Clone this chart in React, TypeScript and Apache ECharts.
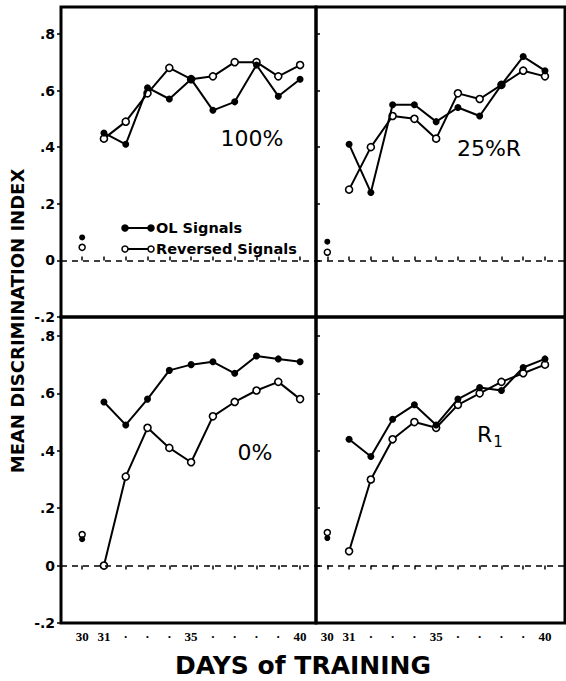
import React, { useEffect, useRef } from "react";
import * as echarts from "echarts";

// ---- data ----
const days = [31, 32, 33, 34, 35, 36, 37, 38, 39, 40];
const pretestDay = 30;
const dayTicks = [30, 31, 32, 33, 34, 35, 36, 37, 38, 39, 40];
const labeledDays = [30, 31, 35, 40];
const yTicks = [-0.2, 0, 0.2, 0.4, 0.6, 0.8];

const panelLabels = ["100%", "25%R", "0%", "R1"];

const olSignals100 = [0.45, 0.41, 0.61, 0.57, 0.64, 0.53, 0.56, 0.69, 0.58, 0.64];
const reversedSignals100 = [0.43, 0.49, 0.59, 0.68, 0.64, 0.65, 0.7, 0.7, 0.65, 0.69];

const olSignals25R = [0.41, 0.24, 0.55, 0.55, 0.49, 0.54, 0.51, 0.62, 0.72, 0.67];
const reversedSignals25R = [0.25, 0.4, 0.51, 0.5, 0.43, 0.59, 0.57, 0.62, 0.67, 0.65];

const olSignals0 = [0.57, 0.49, 0.58, 0.68, 0.7, 0.71, 0.67, 0.73, 0.72, 0.71];
const reversedSignals0 = [0.0, 0.31, 0.48, 0.41, 0.36, 0.52, 0.57, 0.61, 0.64, 0.58];

const olSignalsR1 = [0.44, 0.38, 0.51, 0.56, 0.49, 0.58, 0.62, 0.61, 0.69, 0.72];
const reversedSignalsR1 = [0.05, 0.3, 0.44, 0.5, 0.48, 0.56, 0.6, 0.64, 0.67, 0.7];

const pretestOL = [0.081, 0.066, 0.092, 0.096];
const pretestReversed = [0.046, 0.029, 0.108, 0.115];

const olSeries = [olSignals100, olSignals25R, olSignals0, olSignalsR1];
const revSeries = [reversedSignals100, reversedSignals25R, reversedSignals0, reversedSignalsR1];

// ---- layout ----
const grids = [
  { left: 61, top: 7, width: 255, height: 310 },
  { left: 316, top: 7, width: 249, height: 310 },
  { left: 61, top: 317, width: 255, height: 306 },
  { left: 316, top: 317, width: 249, height: 306 },
];
const xRanges = [
  [29.03, 40.73],
  [29.48, 40.92],
  [29.03, 40.73],
  [29.48, 40.92],
];
const yRanges = [
  [-0.2, 0.895],
  [-0.2, 0.895],
  [-0.2, 0.866],
  [-0.2, 0.866],
];

const SANS = "DejaVu Sans";

function yFmt(v: number) {
  const r = Math.round(v * 10) / 10;
  if (r === 0) return "0";
  return String(r).replace("0.", ".");
}

function xFmt(v: number) {
  const r = Math.round(v);
  if (labeledDays.indexOf(r) >= 0) return String(r);
  return "·";
}

export default function App() {
  const ref = useRef<HTMLDivElement>(null);

  useEffect(() => {
    if (!ref.current) return;
    const chart = echarts.init(ref.current, undefined, { renderer: "svg" });

    const xAxis = grids.map((_, i) => ({
      type: "value",
      gridIndex: i,
      min: xRanges[i][0],
      max: xRanges[i][1],
      axisLine: { show: false },
      splitLine: { show: false },
      axisTick: {
        show: true,
        customValues: dayTicks,
        inside: i < 2,
        length: 4,
        lineStyle: { color: "#000", width: 1.5 },
      },
      axisLabel: {
        show: i >= 2,
        customValues: dayTicks,
        formatter: xFmt,
        color: "#000",
        fontFamily: "Liberation Serif",
        fontWeight: "bold",
        fontSize: 13,
        margin: 7,
      },
    }));

    const yAxis = grids.map((_, i) => ({
      type: "value",
      gridIndex: i,
      min: yRanges[i][0],
      max: yRanges[i][1],
      axisLine: { show: false },
      splitLine: { show: false },
      axisTick: {
        show: true,
        customValues: yTicks,
        inside: i % 2 === 1,
        length: 4,
        lineStyle: { color: "#000", width: 1.5 },
      },
      axisLabel: {
        show: i % 2 === 0,
        customValues: yTicks,
        formatter: yFmt,
        color: "#000",
        fontFamily: SANS,
        fontWeight: "bold",
        fontSize: 14,
        margin: 6,
      },
    }));

    const series: any[] = [];
    grids.forEach((_, i) => {
      series.push({
        type: "line",
        name: "Reversed Signals",
        xAxisIndex: i,
        yAxisIndex: i,
        data: days.map((d, k) => [d, revSeries[i][k]]),
        symbol: "circle",
        symbolSize: 7,
        itemStyle: { color: "#fff", borderColor: "#000", borderWidth: 1.6, opacity: 1 },
        lineStyle: { color: "#000", width: 2 },
        z: 3,
      });
      series.push({
        type: "line",
        name: "OL Signals",
        xAxisIndex: i,
        yAxisIndex: i,
        data: days.map((d, k) => [d, olSeries[i][k]]),
        symbol: "circle",
        symbolSize: 7,
        itemStyle: { color: "#000", opacity: 1 },
        lineStyle: { color: "#000", width: 2 },
        z: 4,
        markLine: {
          silent: true,
          symbol: "none",
          label: { show: false },
          lineStyle: { color: "#000", type: [6, 5], width: 1.5 },
          data: [{ yAxis: 0 }],
        },
      });
      series.push({
        type: "scatter",
        name: "Reversed pretest",
        xAxisIndex: i,
        yAxisIndex: i,
        data: [[pretestDay, pretestReversed[i]]],
        symbol: "circle",
        symbolSize: 6,
        itemStyle: { color: "#fff", borderColor: "#000", borderWidth: 1.5, opacity: 1 },
        z: 3,
      });
      series.push({
        type: "scatter",
        name: "OL pretest",
        xAxisIndex: i,
        yAxisIndex: i,
        data: [[pretestDay, pretestOL[i]]],
        symbol: "circle",
        symbolSize: 6,
        itemStyle: { color: "#000", opacity: 1 },
        z: 4,
      });
    });

    const legendRow = (y: number, filled: boolean, label: string) => ({
      type: "group",
      children: [
        { type: "line", shape: { x1: 123, y1: y, x2: 152, y2: y }, style: { stroke: "#000", lineWidth: 2 } },
        {
          type: "circle",
          shape: { cx: 125, cy: y, r: 3 },
          style: { fill: filled ? "#000" : "#fff", stroke: "#000", lineWidth: 1.5 },
        },
        {
          type: "circle",
          shape: { cx: 151, cy: y, r: 3 },
          style: { fill: filled ? "#000" : "#fff", stroke: "#000", lineWidth: 1.5 },
        },
        {
          type: "text",
          x: 156,
          y: y,
          style: {
            text: label,
            font: `bold 14.5px "${SANS}"`,
            fill: "#000",
            verticalAlign: "middle",
            align: "left",
          },
        },
      ],
    });

    const panelText = (text: string, x: number, y: number) => ({
      type: "text",
      x,
      y,
      style: {
        text,
        font: `22px "${SANS}"`,
        fill: "#000",
        align: "center",
        verticalAlign: "middle",
      },
    });

    const graphic: any[] = [
      legendRow(228, true, "OL Signals"),
      legendRow(249, false, "Reversed Signals"),
      panelText(panelLabels[0], 252, 138),
      panelText(panelLabels[1], 489, 148),
      panelText(panelLabels[2], 255, 452),
      {
        type: "text",
        x: 477,
        y: 420,
        style: {
          text: "{r|R}{s|1}",
          fill: "#000",
          rich: {
            r: { fontFamily: SANS, fontSize: 22, fill: "#000" },
            s: { fontFamily: SANS, fontSize: 15, fill: "#000", padding: [14, 0, 0, 1] },
          },
          align: "left",
          verticalAlign: "top",
        },
      },
      {
        type: "text",
        x: 17,
        y: 321,
        rotation: Math.PI / 2,
        style: {
          text: "MEAN DISCRIMINATION INDEX",
          font: `bold 18px "${SANS}"`,
          fill: "#000",
          align: "center",
          verticalAlign: "middle",
        },
      },
      {
        type: "text",
        x: 303,
        y: 665,
        style: {
          text: "DAYS of TRAINING",
          font: `bold 25px "${SANS}"`,
          fill: "#000",
          align: "center",
          verticalAlign: "middle",
        },
      },
    ];

    chart.setOption({
      animation: false,
      backgroundColor: "#fff",
      grid: grids.map((g) => ({
        ...g,
        show: true,
        borderColor: "#000",
        borderWidth: 3,
        backgroundColor: "transparent",
        containLabel: false,
      })),
      xAxis,
      yAxis,
      series,
      graphic,
    });

    return () => chart.dispose();
  }, []);

  return (
    <div
      ref={ref}
      style={{ position: "fixed", left: 0, top: 0, width: 566, height: 681, background: "#fff" }}
    />
  );
}
